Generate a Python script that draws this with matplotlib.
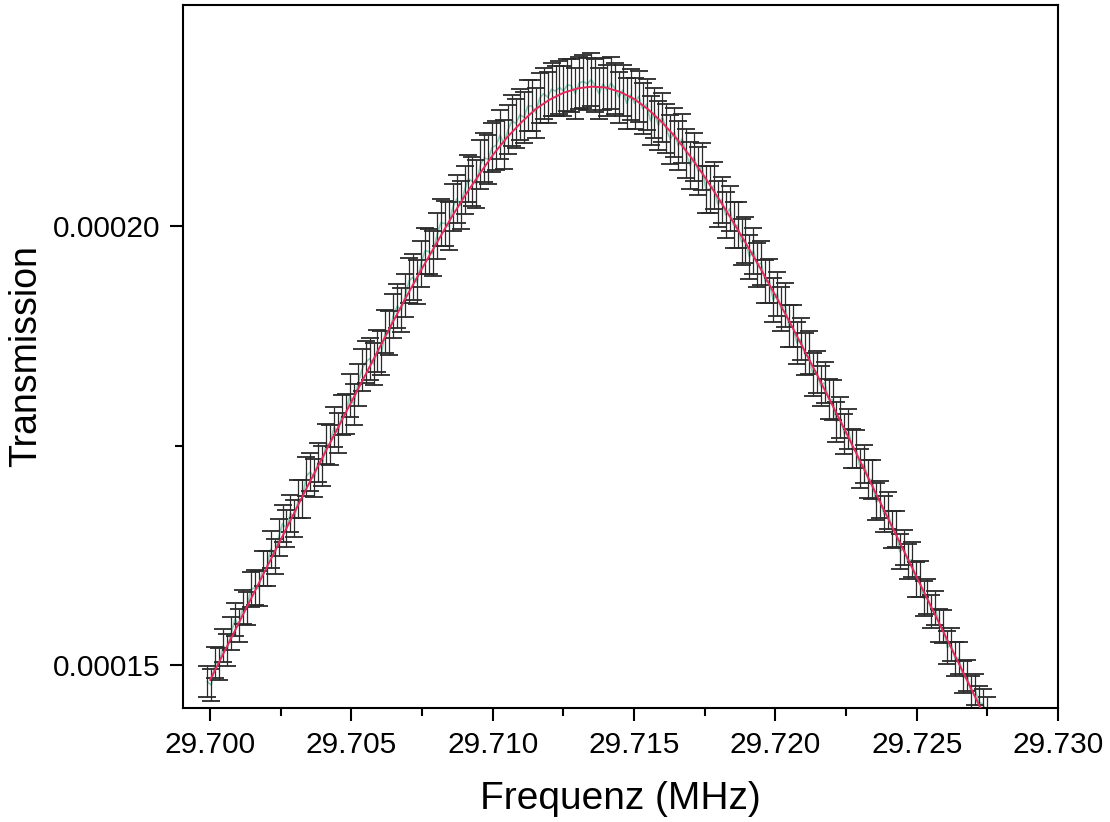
import numpy as np
import matplotlib
matplotlib.use("Agg")
import matplotlib.pyplot as plt
from matplotlib.ticker import FixedLocator, FormatStrFormatter

plt.rcParams['font.family'] = ['Liberation Sans', 'DejaVu Sans']

# Messpunkte: Frequenz = f0 + i * df (MHz), Transmission in 1e-6
f0 = 29.6999
df = 0.00014

trans = [
    148.1, 147.7, 150.3, 150.1, 152.2, 151.7, 153.6, 155.2, 154.5, 156.6,
    156.4, 158.6, 158.8, 158.7, 161.0, 161.0, 163.2, 162.4, 164.5, 166.1,
    165.6, 167.3, 166.7, 168.9, 168.9, 171.5, 172.0, 171.3, 173.1, 172.7,
    175.2, 175.1, 177.1, 176.4, 178.5, 178.6, 180.7, 179.7, 181.9, 183.6,
    184.5, 184.9, 184.3, 185.8, 185.5, 188.0, 187.8, 189.8, 190.9, 190.4,
    192.1, 193.8, 194.2, 193.6, 195.7, 197.2, 197.1, 196.9, 198.9, 200.4,
    200.3, 200.0, 202.1, 203.1, 202.4, 204.1, 205.4, 205.1, 204.8, 207.0,
    207.8, 207.6, 209.0, 209.2, 210.4, 209.3, 211.0, 212.0, 211.7, 212.7,
    212.4, 213.7, 213.7, 212.9, 214.6, 215.1, 214.7, 215.6, 215.4, 215.8,
    215.4, 216.1, 216.0, 215.1, 216.3, 216.5, 216.2, 216.7, 216.0, 215.1,
    216.2, 215.5, 216.3, 215.7, 214.7, 215.5, 214.0, 215.0, 214.0, 214.8,
    213.4, 213.9, 212.0, 212.9, 211.5, 212.4, 211.1, 209.9, 210.7, 209.2,
    210.0, 208.3, 206.9, 207.9, 206.3, 206.8, 204.2, 204.2, 204.6, 202.5,
    203.0, 201.3, 202.0, 200.1, 200.1, 198.2, 198.4, 196.5, 197.2, 195.6,
    195.8, 193.7, 193.8, 191.6, 192.3, 190.6, 191.0, 188.6, 188.6, 186.7,
    187.1, 185.4, 185.6, 183.1, 183.4, 181.8, 182.2, 180.3, 180.2, 177.7,
    178.2, 176.3, 176.9, 174.7, 174.6, 172.4, 172.9, 171.2, 171.1, 168.6,
    168.9, 167.2, 167.6, 165.4, 165.5, 162.9, 163.4, 161.8, 162.0, 159.7,
    159.8, 157.6, 157.8, 156.1, 156.5, 154.5, 154.4, 152.0, 152.3, 150.7,
    150.8, 148.6, 148.8, 146.9, 147.2, 145.8, 145.5, 144.6,
]

fehler = [
    1.8, 1.8, 1.8, 1.8, 1.9, 1.8, 1.9, 1.9, 1.9, 1.9,
    1.9, 2.0, 2.0, 2.0, 2.0, 2.0, 2.1, 2.0, 2.1, 2.1,
    2.1, 2.1, 2.1, 2.2, 2.2, 2.2, 2.2, 2.2, 2.2, 2.3,
    2.3, 2.3, 2.3, 2.3, 2.3, 2.3, 2.4, 2.3, 2.4, 2.4,
    2.4, 2.4, 2.4, 2.4, 2.5, 2.5, 2.5, 2.5, 2.5, 2.5,
    2.5, 2.6, 2.6, 2.5, 2.6, 2.6, 2.6, 2.6, 2.6, 2.7,
    2.6, 2.7, 2.7, 2.7, 2.7, 2.7, 2.7, 2.8, 2.7, 2.8,
    2.8, 2.8, 2.8, 2.8, 2.8, 2.8, 2.8, 2.9, 2.8, 2.9,
    2.9, 2.9, 2.9, 2.9, 2.9, 2.9, 2.9, 3.0, 2.9, 3.0,
    2.9, 3.0, 3.0, 2.9, 3.0, 3.0, 3.0, 3.0, 3.0, 2.9,
    3.0, 2.9, 3.0, 2.9, 2.9, 2.9, 2.9, 2.9, 2.9, 2.9,
    2.9, 2.9, 2.8, 2.9, 2.8, 2.8, 2.8, 2.8, 2.8, 2.8,
    2.8, 2.8, 2.7, 2.7, 2.7, 2.7, 2.7, 2.7, 2.7, 2.6,
    2.6, 2.6, 2.6, 2.6, 2.6, 2.6, 2.6, 2.5, 2.6, 2.5,
    2.5, 2.5, 2.5, 2.5, 2.5, 2.5, 2.5, 2.4, 2.4, 2.4,
    2.4, 2.4, 2.4, 2.4, 2.4, 2.3, 2.3, 2.3, 2.3, 2.3,
    2.3, 2.3, 2.3, 2.2, 2.2, 2.2, 2.2, 2.2, 2.2, 2.1,
    2.1, 2.1, 2.1, 2.1, 2.1, 2.0, 2.0, 2.0, 2.0, 2.0,
    2.0, 2.0, 2.0, 1.9, 1.9, 1.9, 1.9, 1.9, 1.9, 1.9,
    1.8, 1.8, 1.8, 1.8, 1.8, 1.8, 1.8, 1.8,
]

# Fitkurve: Frequenz = fit_f0 + i * fit_df
fit_f0 = 29.7000
fit_df = 0.0005
fit = [
    148.3, 151.5, 154.7, 157.9, 161.1, 164.3, 167.5, 170.7, 173.8, 176.9,
    180.0, 183.1, 186.2, 189.3, 192.3, 195.2, 198.0, 200.8, 203.4, 205.8,
    208.1, 210.1, 211.8, 213.3, 214.4, 215.2, 215.7, 215.9, 215.8, 215.3,
    214.5, 213.3, 211.8, 210.0, 207.9, 205.6, 203.1, 200.5, 197.8, 195.0,
    192.1, 189.1, 186.0, 182.9, 179.7, 176.5, 173.2, 169.9, 166.6, 163.3,
    160.0, 156.7, 153.4, 150.1, 146.8, 143.5,
]

x = f0 + df * np.arange(len(trans))
y = np.array(trans) * 1e-6
yerr = np.array(fehler) * 1e-6
xf = fit_f0 + fit_df * np.arange(len(fit))
yf = np.array(fit) * 1e-6

fig = plt.figure(figsize=(11.1, 8.22), dpi=100)
ax = fig.add_axes([0.1649, 0.1387, 0.7883, 0.8552])

ax.plot(x, y, color='#6cc2a6', lw=1.2, alpha=0.8, zorder=1)
cont = ax.errorbar(x, y, yerr=yerr, fmt='none', ecolor='#2a2a2a', elinewidth=0.9,
                   capsize=6.2, capthick=1.3, zorder=2)
for cl in cont[1]:
    cl.set_color('black')
ax.plot(xf, yf, color='#e8285a', lw=1.4, zorder=3)

ax.set_xlim(29.69904, 29.730)
ax.set_ylim(0.0001451, 0.0002252)
ax.xaxis.set_major_locator(FixedLocator([29.700, 29.705, 29.710, 29.715, 29.720, 29.725, 29.730]))
ax.xaxis.set_minor_locator(FixedLocator([29.7025, 29.7075, 29.7125, 29.7175, 29.7225, 29.7275]))
ax.xaxis.set_major_formatter(FormatStrFormatter('%.3f'))
ax.yaxis.set_major_locator(FixedLocator([0.00015, 0.00020]))
ax.yaxis.set_minor_locator(FixedLocator([0.000175]))
ax.yaxis.set_major_formatter(FormatStrFormatter('%.5f'))

ax.tick_params(which='major', direction='out', length=9.5, width=1.5, labelsize=21.5, pad=7)
ax.tick_params(which='minor', direction='out', length=6, width=1.5)
for s in ax.spines.values():
    s.set_linewidth(1.5)

ax.set_xlabel('Frequenz (MHz)', fontsize=28, labelpad=16)
ax.set_ylabel('Transmission', fontsize=27, labelpad=6)

fig.savefig('out.png', dpi=100)
